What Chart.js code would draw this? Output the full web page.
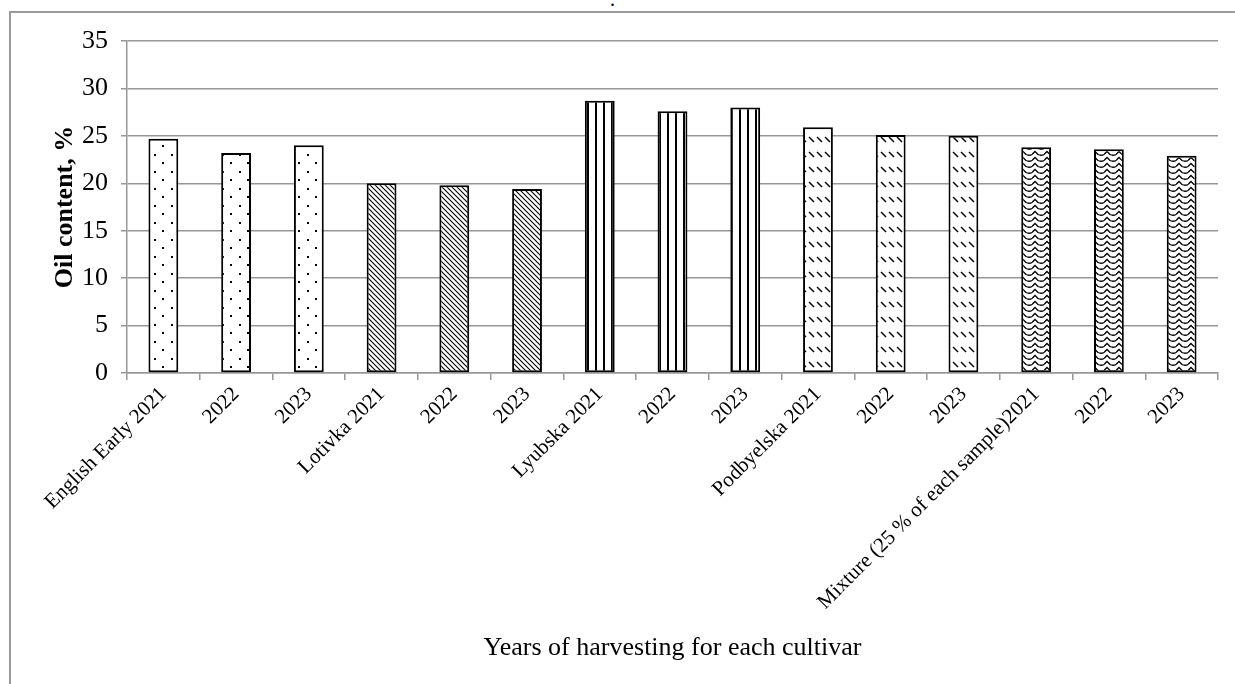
<!DOCTYPE html>
<html>
<head>
<meta charset="utf-8">
<script src="https://cdn.jsdelivr.net/npm/chart.js@4.4.1/dist/chart.umd.min.js"></script>
<style>
  body { margin: 0; background: #fff; }
  #wrap { position: relative; width: 1235px; height: 684px; }
  #frame { position: absolute; left: 9px; top: 11px; right: 0; bottom: 0;
           border-top: 2px solid #9a9a9a; border-left: 2px solid #9a9a9a; }
  #dot { position: absolute; left: 610px; top: -12px; font: 20px "Liberation Serif", serif; }
  canvas { position: absolute; left: 0; top: 0; }
</style>
</head>
<body>
<div id="wrap">
  <div id="frame"></div>
  <div id="dot">.</div>
  <canvas id="myChart" width="1235" height="684"></canvas>
</div>
<script>
// Data
var labels = [
    'English Early 2021', '2022', '2023',
    'Lotivka 2021', '2022', '2023',
    'Lyubska 2021', '2022', '2023',
    'Podbyelska 2021', '2022', '2023',
    'Mixture (25 % of each sample)2021', '2022', '2023'
];
var oilContent = [24.7, 23.2, 24.0, 20.0, 19.8, 19.4, 28.7, 27.6, 28.0, 25.9, 25.1, 25.0, 23.8, 23.6, 22.9];
// which fill each bar uses (one per cultivar)
var cultivarPattern = ['dots', 'dots', 'dots', 'diag', 'diag', 'diag', 'vert', 'vert', 'vert',
    'dash', 'dash', 'dash', 'wave', 'wave', 'wave'];
var yTicks = { min: 0, max: 35, step: 5 };

function makePattern(kind) {
    var c = document.createElement('canvas');
    var g = c.getContext('2d');
    g.fillStyle = '#000';
    g.strokeStyle = '#000';
    if (kind === 'dots') {
        c.width = 17; c.height = 17;
        g.fillStyle = '#fff'; g.fillRect(0, 0, 17, 17);
        g.fillStyle = '#000';
        g.fillRect(1, 1, 2, 2);
        g.fillRect(9, 9, 2, 2);
    } else if (kind === 'diag') {
        c.width = 5; c.height = 5;
        g.fillStyle = '#fff'; g.fillRect(0, 0, 5, 5);
        g.lineWidth = 1.1;
        g.beginPath();
        g.moveTo(-1, -1); g.lineTo(6, 6);
        g.moveTo(-1, 4); g.lineTo(1, 6);
        g.moveTo(4, -1); g.lineTo(6, 1);
        g.stroke();
    } else if (kind === 'vert') {
        c.width = 8; c.height = 4;
        g.fillStyle = '#fff'; g.fillRect(0, 0, 8, 4);
        g.fillStyle = '#000';
        g.fillRect(3, 0, 2, 4);
    } else if (kind === 'dash') {
        c.width = 8; c.height = 15;
        g.fillStyle = '#fff'; g.fillRect(0, 0, 8, 15);
        g.lineWidth = 1.4;
        g.beginPath();
        g.moveTo(1, 2); g.lineTo(6, 7);
        g.stroke();
    } else if (kind === 'wave') {
        c.width = 12; c.height = 6;
        g.fillStyle = '#fff'; g.fillRect(0, 0, 12, 6);
        g.lineWidth = 1.3;
        g.beginPath();
        g.moveTo(0, 4.5); g.lineTo(3, 1.5); g.lineTo(6, 4.5);
        g.quadraticCurveTo(9, 6, 12, 4.5);
        g.stroke();
    }
    return c;
}

var ctx = document.getElementById('myChart').getContext('2d');
var patterns = {};
['dots', 'diag', 'vert', 'dash', 'wave'].forEach(function (k) {
    patterns[k] = ctx.createPattern(makePattern(k), 'repeat');
});
var fills = cultivarPattern.map(function (k) { return patterns[k]; });

var serif = '"Liberation Serif", "Times New Roman", serif';
var gridGray = '#979797';

var myBarChart = new Chart(ctx, {
    type: 'bar',
    data: {
        labels: labels,
        datasets: [
            {
                label: 'Oil content, %',
                data: oilContent,
                backgroundColor: fills,
                borderColor: '#000',
                borderWidth: 2,
                borderSkipped: false,
                categoryPercentage: 1,
                barPercentage: 0.41
            }
        ]
    },
    options: {
        responsive: false,
        animation: false,
        layout: { padding: { left: 10, top: 41, right: 17, bottom: 0 } },
        plugins: {
            legend: { display: false },
            tooltip: { enabled: false }
        },
        scales: {
            x: {
                offset: true,
                grid: {
                    offset: true,
                    drawOnChartArea: false,
                    drawTicks: true,
                    tickLength: 7,
                    color: gridGray,
                    lineWidth: 1.5
                },
                border: { color: gridGray, width: 1.5 },
                ticks: {
                    color: '#000',
                    autoSkip: false,
                    minRotation: 45,
                    maxRotation: 45,
                    padding: 2,
                    font: { family: serif, size: 21 }
                },
                title: {
                    display: true,
                    text: 'Years of harvesting for each cultivar',
                    color: '#000',
                    font: { family: serif, size: 26 },
                    padding: { top: 4, bottom: 20 }
                },
                afterFit: function (scale) { scale.height = 311; }
            },
            y: {
                min: yTicks.min,
                max: yTicks.max,
                grid: {
                    color: gridGray,
                    lineWidth: 1.5,
                    tickLength: 6
                },
                border: { color: gridGray, width: 1.5 },
                ticks: {
                    stepSize: yTicks.step,
                    color: '#000',
                    padding: 13,
                    font: { family: serif, size: 26 }
                },
                title: {
                    display: true,
                    text: 'Oil content, %',
                    color: '#000',
                    font: { family: serif, size: 26, weight: 'bold' },
                    padding: { top: 40, bottom: 0 }
                },
                afterFit: function (scale) { scale.width = 117; }
            }
        }
    }
});
</script>
</body>
</html>
